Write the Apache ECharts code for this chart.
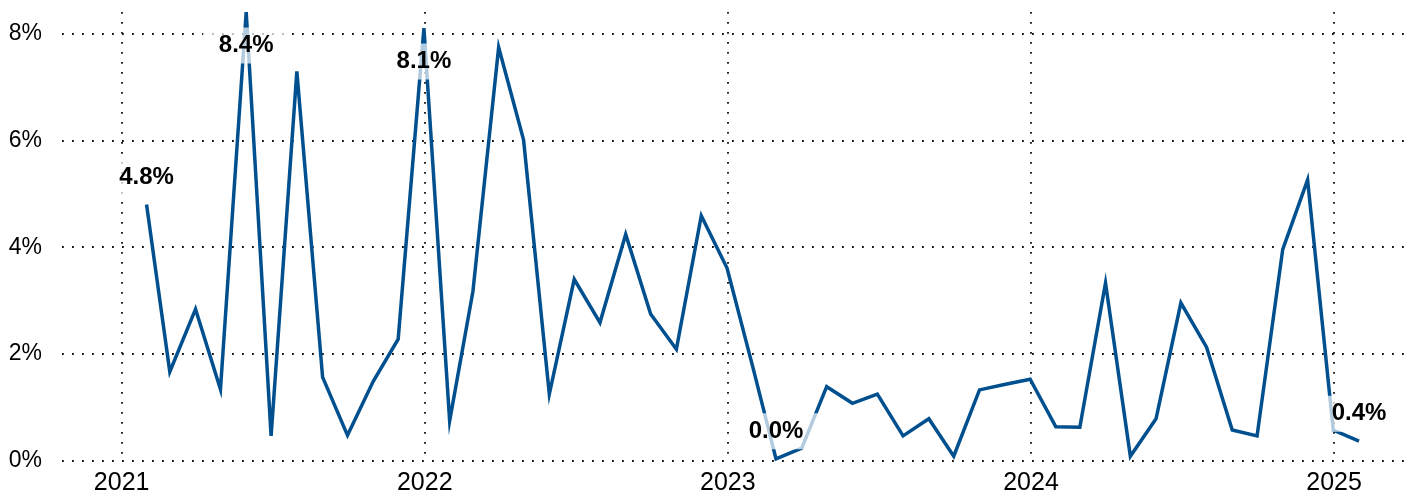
<!DOCTYPE html>
<html>
<head>
<meta charset="utf-8">
<title>Monthly change</title>
<script src="https://cdn.jsdelivr.net/npm/echarts@6/dist/echarts.min.js"></script>
<style>
  html, body { margin: 0; padding: 0; background: #fff; }
  #chart { width: 1413px; height: 497px; }
</style>
</head>
<body>
<div id="chart"></div>
<script>
// month-end dates, Jan 2021 .. Jan 2025
var months = [
  "2021-01-31", "2021-02-28", "2021-03-31", "2021-04-30", "2021-05-31", "2021-06-30",
  "2021-07-31", "2021-08-31", "2021-09-30", "2021-10-31", "2021-11-30", "2021-12-31",
  "2022-01-31", "2022-02-28", "2022-03-31", "2022-04-30", "2022-05-31", "2022-06-30",
  "2022-07-31", "2022-08-31", "2022-09-30", "2022-10-31", "2022-11-30", "2022-12-31",
  "2023-01-31", "2023-02-28", "2023-03-31", "2023-04-30", "2023-05-31", "2023-06-30",
  "2023-07-31", "2023-08-31", "2023-09-30", "2023-10-31", "2023-11-30", "2023-12-31",
  "2024-01-31", "2024-02-29", "2024-03-31", "2024-04-30", "2024-05-31", "2024-06-30",
  "2024-07-31", "2024-08-31", "2024-09-30", "2024-10-31", "2024-11-30", "2024-12-31",
  "2025-01-31"
];

// percent
var values = [
  4.8, 1.67, 2.84, 1.34, 8.4, 0.47, 7.29, 1.57, 0.48, 1.49, 2.28, 8.1,
  0.75, 3.17, 7.74, 6.01, 1.25, 3.40, 2.59, 4.24, 2.75, 2.09, 4.59, 3.61,
  1.76, 0.04, 0.24, 1.39, 1.08, 1.25, 0.47, 0.79, 0.09, 1.33, 1.43, 1.53,
  0.64, 0.63, 3.33, 0.09, 0.79, 2.96, 2.13, 0.58, 0.47, 3.96, 5.26, 0.58,
  0.37
];

// points that carry a value label
var labelled = ["2021-01-31", "2021-05-31", "2021-12-31", "2023-02-28", "2025-01-31"];

var yearTicks = [2021, 2022, 2023, 2024, 2025];
var yTicks = [0, 2, 4, 6, 8];

var lineColor = "#00508f";
var font = "'Liberation Sans', Arial, sans-serif";
var gridLine = { color: "#111", width: 1.8, type: [1.8, 8.2] };

// date string -> fractional year, so the x axis can be a plain value axis
function toYear(s) {
  var p = s.split("-");
  var y = +p[0];
  var t = Date.UTC(y, +p[1] - 1, +p[2]);
  var a = Date.UTC(y, 0, 1), b = Date.UTC(y + 1, 0, 1);
  return y + (t - a) / (b - a);
}

var seriesData = months.map(function (m, i) {
  var item = { value: [toYear(m), values[i]] };
  if (labelled.indexOf(m) >= 0) {
    var high = values[i] > 7;
    item.label = {
      show: true,
      position: high ? "bottom" : "top",
      distance: high ? 15 : 9,
      formatter: values[i].toFixed(1) + "%"
    };
  }
  return item;
});

var chart = echarts.init(document.getElementById("chart"), null, { renderer: "canvas" });

chart.setOption({
  animation: false,
  backgroundColor: "#fff",
  grid: {
    left: 62,
    right: 5,
    top: 12,
    bottom: 36
  },
  xAxis: {
    type: "value",
    min: toYear("2020-10-21"),
    max: toYear("2025-03-31"),
    axisLine: { show: false },
    axisTick: { show: false, customValues: yearTicks },
    axisLabel: {
      customValues: yearTicks,
      formatter: function (v) { return String(Math.round(v)); },
      fontFamily: font,
      fontSize: 25,
      color: "#000",
      margin: 10
    },
    splitLine: { show: true, lineStyle: gridLine }
  },
  yAxis: {
    type: "value",
    min: 0,
    max: 8.4,
    axisLine: { show: false },
    axisTick: { show: false, customValues: yTicks },
    axisLabel: {
      customValues: yTicks,
      formatter: function (v) { return v + "%"; },
      fontFamily: font,
      fontSize: 23,
      color: "#000",
      margin: 20
    },
    splitLine: { show: true, lineStyle: gridLine }
  },
  series: [
    {
      type: "line",
      data: seriesData,
      showSymbol: true,
      symbol: "circle",
      symbolSize: 1,
      itemStyle: { color: "rgba(0,0,0,0)" },
      lineStyle: { color: lineColor, width: 3.5, join: "miter" },
      label: {
        show: false,
        fontFamily: font,
        fontSize: 24,
        fontWeight: "bold",
        color: "#000",
        backgroundColor: "rgba(255,255,255,0.7)",
        padding: [6, 16]
      },
      labelLayout: { hideOverlap: false }
    }
  ]
});
</script>
</body>
</html>
